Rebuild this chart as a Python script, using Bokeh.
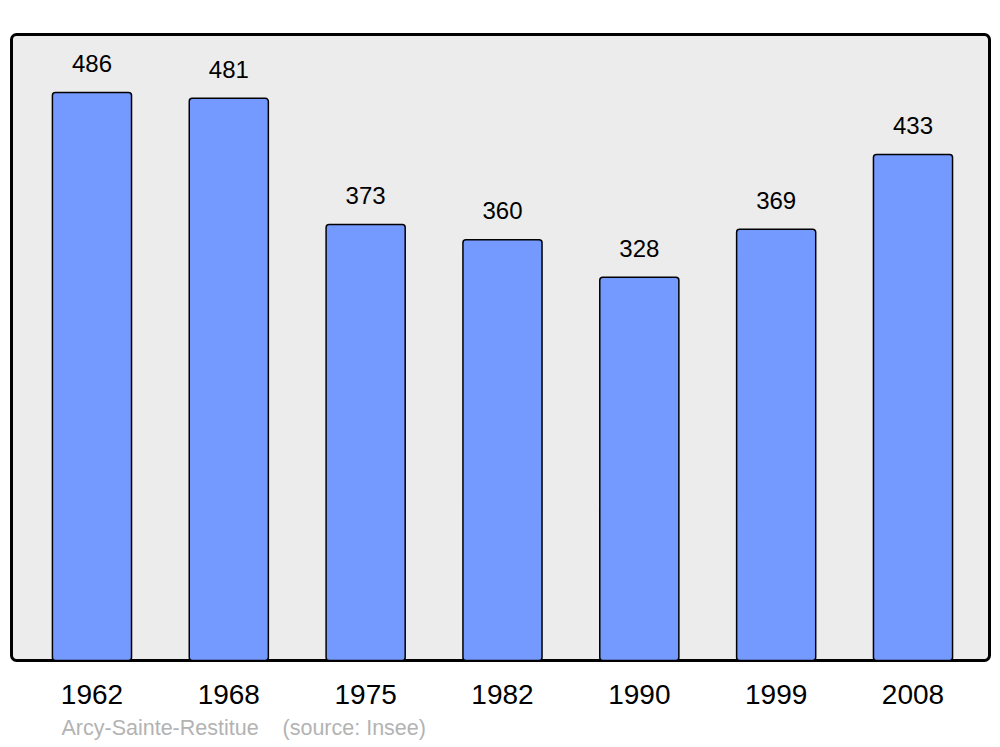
from bokeh.plotting import figure
from bokeh.models import ColumnDataSource, BoxAnnotation, Title, Range1d, FixedTicker
from bokeh.core.properties import value
from bokeh.embed import file_html
from bokeh.resources import INLINE

years = ["1962", "1968", "1975", "1982", "1990", "1999", "2008"]
population = [486, 481, 373, 360, 328, 369, 433]
place = "Arcy-Sainte-Restitue"
source_note = "(source: Insee)"

xs = list(range(len(years)))
src = ColumnDataSource(dict(x=xs, top=population, lab=[str(v) for v in population]))

p = figure(width=995, height=747, output_backend="svg", toolbar_location=None,
           x_range=Range1d(-0.610, 6.581), y_range=Range1d(-2.567, 538.17),
           min_border_left=8, min_border_right=3, min_border_top=31, min_border_bottom=84)
p.background_fill_color = None
p.border_fill_color = "white"
p.outline_line_color = None
p.grid.visible = False
p.yaxis.visible = False

bg = BoxAnnotation(left=-0.588, right=6.559, bottom=0, top=535.6,
                   fill_color="#ececec", fill_alpha=1, line_color="black", line_alpha=1,
                   line_dash="solid", line_width=3, border_radius=5, level="underlay")
p.add_layout(bg)

p.vbar(x="x", top="top", bottom=0, width=0.578, source=src, fill_color="#7499ff",
       line_color="black", line_width=1.5, border_radius=3)

p.text(x="x", y="top", text="lab", source=src, text_align="center",
       text_baseline="alphabetic", y_offset=-29, text_font_size="24px",
       text_font=value("Liberation Sans"), text_color="black")

ax = p.xaxis[0]
ax.ticker = FixedTicker(ticks=xs)
ax.major_label_overrides = {i: y for i, y in enumerate(years)}
ax.axis_line_color = None
ax.major_tick_line_color = None
ax.minor_tick_line_color = None
ax.major_label_text_font = "Liberation Sans"
ax.major_label_text_font_size = "28px"
ax.major_label_text_color = "black"
ax.major_label_standoff = 15

note = Title(text=place + "\u00a0\u00a0\u00a0\u00a0" + source_note, align="left",
             offset=53, text_font="Liberation Sans", text_font_size="21.5px",
             text_font_style="normal", text_color="#b3b3b3", standoff=15)
p.add_layout(note, "below")

open("out.html", "w").write(file_html(p, INLINE))
